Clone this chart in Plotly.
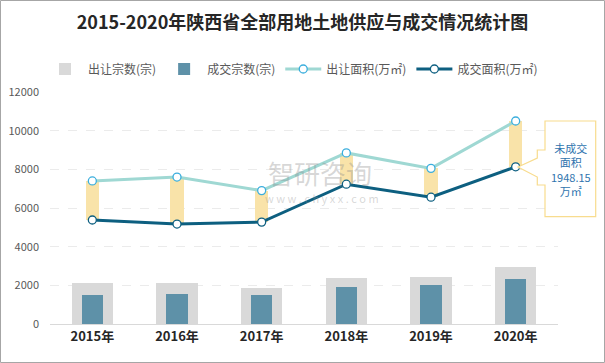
import plotly.graph_objects as go

# ---- data ----
years = ["2015年", "2016年", "2017年", "2018年", "2019年", "2020年"]
supply_count = [2120, 2120, 1860, 2380, 2445, 2960]   # 出让宗数(宗)
deal_count = [1500, 1570, 1500, 1910, 2030, 2325]     # 成交宗数(宗)
supply_area = [7400, 7600, 6900, 8850, 8050, 10500]   # 出让面积(万㎡)
deal_area = [5380, 5170, 5270, 7230, 6560, 8130]      # 成交面积(万㎡)
unmet_2020 = "1948.15"

# ---- layout geometry (pixels) ----
W, H = 605, 363
L, R, T, B = 50, 47, 92, 39
PW, PH = W - L - R, H - T - B


def px(x):
    return (x - L) / PW


def py(y):
    return (H - B - y) / PH


FONT = "Noto Sans CJK SC"
gap = [s - d for s, d in zip(supply_area, deal_area)]

fig = go.Figure()
fig.add_trace(go.Bar(x=years, y=supply_count, name="出让宗数(宗)", width=0.485,
                     marker=dict(color="#D9D9D9", line=dict(width=0))))
fig.add_trace(go.Bar(x=years, y=deal_count, name="成交宗数(宗)", width=0.25,
                     marker=dict(color="#5E91A8", line=dict(width=0))))
fig.add_trace(go.Bar(x=years, y=gap, base=deal_area, width=0.155, showlegend=False,
                     marker=dict(color="#F9E3A9", line=dict(width=0))))
fig.add_trace(go.Scatter(x=years, y=supply_area, name="出让面积(万㎡)", mode="lines+markers",
                         line=dict(color="#9FD8D3", width=3),
                         marker=dict(size=8, color="white", line=dict(color="#3BAEDD", width=1.3))))
fig.add_trace(go.Scatter(x=years, y=deal_area, name="成交面积(万㎡)", mode="lines+markers",
                         line=dict(color="#0D5F80", width=3),
                         marker=dict(size=8, color="white", line=dict(color="#0D5F80", width=1.3))))

shapes = [
    # outer border
    dict(type="rect", xref="paper", yref="paper", x0=px(0.5), x1=px(W - 0.5),
         y0=py(H - 0.5), y1=py(0.5), line=dict(color="#A6A6A6", width=1), layer="below"),
]
# callout
pts = [(545, 121), (545, 150), (537.3, 150), (537.3, 158), (518, 167), (537.3, 177),
       (537.3, 185), (545, 185), (545, 216.7), (595.7, 216.7), (595.7, 121)]
path = "M " + " L ".join(f"{px(a):.5f},{py(b):.5f}" for a, b in pts) + " Z"
shapes.append(dict(type="path", xref="paper", yref="paper", path=path,
                   line=dict(color="#F8DC8E", width=1.2), fillcolor="rgba(255,255,255,1)"))

annotations = [
    dict(xref="paper", yref="paper", x=px(570.5), y=py(169), xanchor="center", yanchor="middle",
         showarrow=False, text=f"未成交<br>面积<br>{unmet_2020}<br>万㎡", align="center",
         font=dict(family=FONT, size=11, color="#2F74AE")),
    dict(xref="paper", yref="paper", x=px(320), y=py(172), xanchor="center", yanchor="middle",
         showarrow=False, text="智研咨询", font=dict(family=FONT, size=26, color="rgba(140,140,140,0.35)")),
    dict(xref="paper", yref="paper", x=px(322), y=py(198), xanchor="center", yanchor="middle",
         showarrow=False, text="w w w . c h y x x . c o m",
         font=dict(family=FONT, size=11, color="rgba(140,140,140,0.35)")),
]

fig.update_layout(
    width=W, height=H,
    margin=dict(l=L, r=R, t=T, b=B, pad=0, autoexpand=False),
    paper_bgcolor="white", plot_bgcolor="white",
    barmode="overlay", bargap=0,
    title=dict(text="<b>2015-2020年陕西省全部用地土地供应与成交情况统计图</b>",
               x=0.5, xanchor="center", xref="container",
               y=1 - 23 / H, yanchor="middle", yref="container",
               font=dict(family=FONT, size=18, color="#262626")),
    legend=dict(orientation="h", xref="container", yref="container",
                x=42 / W, xanchor="left", y=1 - 69 / H, yanchor="middle",
                font=dict(family=FONT, size=12, color="#595959"), bgcolor="rgba(0,0,0,0)",
                itemwidth=36, traceorder="normal"),
    shapes=shapes,
    annotations=annotations,
    showlegend=True,
)
fig.update_xaxes(showline=True, linecolor="#D9D9D9", linewidth=1, showgrid=False,
                 ticks="", tickfont=dict(family=FONT, size=13, color="#262626"),
                 tickprefix="<b>", ticksuffix="</b>", fixedrange=True)
fig.update_yaxes(range=[0, 12000], dtick=2000, tickformat="d", showline=False, showgrid=True,
                 gridcolor="#EBEBEB", griddash="dash", gridwidth=1, zeroline=False,
                 ticks="", ticklabelstandoff=10,
                 tickfont=dict(family=FONT, size=11, color="#595959"), fixedrange=True)

fig.write_html("out.html", config={"displayModeBar": False},
               post_script="document.body.style.margin='0';")
